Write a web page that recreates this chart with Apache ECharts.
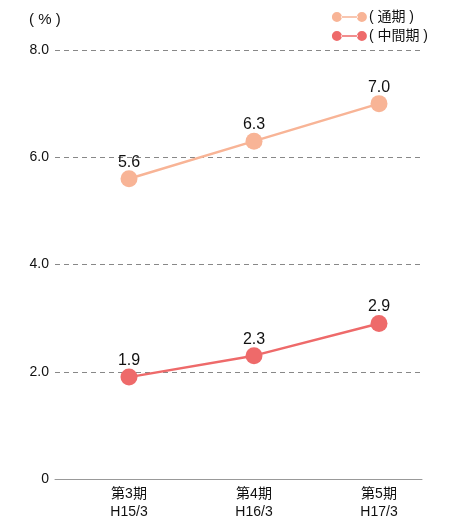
<!DOCTYPE html>
<html><head><meta charset="utf-8">
<script src="https://cdn.jsdelivr.net/npm/echarts@6/dist/echarts.min.js"></script>
<style>html,body{margin:0;padding:0;background:#fff}#c{width:456px;height:521px}</style>
</head><body><div id="c"></div>
<script>
const categories = ['第3期\nH15/3', '第4期\nH16/3', '第5期\nH17/3'];
const fullYear = [5.6, 6.3, 7.0];
const interim = [1.9, 2.3, 2.9];
const seriesNames = ['( 通期 )', '( 中間期 )'];
const yTicks = { min: 0, max: 8, interval: 2 };

const font = '"Liberation Sans", "Noto Sans CJK JP", sans-serif';
const icon = 'path://M0,5a5,5 0 1,0 10,0a5,5 0 1,0 -10,0ZM9,4.3L26,4.3L26,5.7L9,5.7ZM25,5a5,5 0 1,0 10,0a5,5 0 1,0 -10,0Z';
const chart = echarts.init(document.getElementById('c'));
chart.setOption({
  animation: false,
  textStyle: { fontFamily: font },
  title: { text: '( % )', left: 24, top: 7, textStyle: { fontSize: 15, fontWeight: 'normal', color: '#111', fontFamily: font } },
  legend: {
    orient: 'vertical', right: 23, top: 5, itemWidth: 35, itemHeight: 10, itemGap: 5,
    data: [{ name: seriesNames[0], icon: icon }, { name: seriesNames[1], icon: icon }],
    textStyle: { fontSize: 14, color: '#111', fontFamily: font, padding: [0, 0, 0, -3] }
  },
  grid: [
    { left: 55, right: 34, top: 50, bottom: 42 },
    { left: 66.5, right: 14.5, top: 50, bottom: 42 }
  ],
  xAxis: [
    { type: 'value', gridIndex: 0, min: 0, max: 1, axisLine: { show: true, onZero: false, lineStyle: { color: '#999', width: 1 } },
      axisTick: { show: false }, axisLabel: { show: false }, splitLine: { show: false } },
    { type: 'category', gridIndex: 1, data: categories, boundaryGap: true,
      axisLine: { show: false }, axisTick: { show: false },
      axisLabel: { fontSize: 14, color: '#111', lineHeight: 18, margin: 6, fontFamily: font } }
  ],
  yAxis: [
    { type: 'value', gridIndex: 0, min: yTicks.min, max: yTicks.max, interval: yTicks.interval,
      axisLine: { show: false }, axisTick: { show: false },
      axisLabel: { fontSize: 14, color: '#111', margin: 6, formatter: v => v === 0 ? '0' : v.toFixed(1), fontFamily: font },
      splitLine: { show: true, lineStyle: { color: '#888', type: [5, 4], width: 1 } } },
    { type: 'value', gridIndex: 1, min: yTicks.min, max: yTicks.max, interval: yTicks.interval,
      axisLine: { show: false }, axisTick: { show: false }, axisLabel: { show: false }, splitLine: { show: false } }
  ],
  series: [
    { name: seriesNames[0], type: 'line', xAxisIndex: 1, yAxisIndex: 1, data: fullYear,
      symbol: 'circle', symbolSize: 17, color: '#F8B496', lineStyle: { width: 2.5, color: '#F8B496' },
      label: { show: true, position: 'top', distance: 0, fontSize: 16, color: '#111', formatter: p => p.value.toFixed(1), fontFamily: font } },
    { name: seriesNames[1], type: 'line', xAxisIndex: 1, yAxisIndex: 1, data: interim,
      symbol: 'circle', symbolSize: 17, color: '#EE6A6A', lineStyle: { width: 2.5, color: '#EE6A6A' },
      label: { show: true, position: 'top', distance: 0, fontSize: 16, color: '#111', formatter: p => p.value.toFixed(1), fontFamily: font } }
  ]
});
</script></body></html>
